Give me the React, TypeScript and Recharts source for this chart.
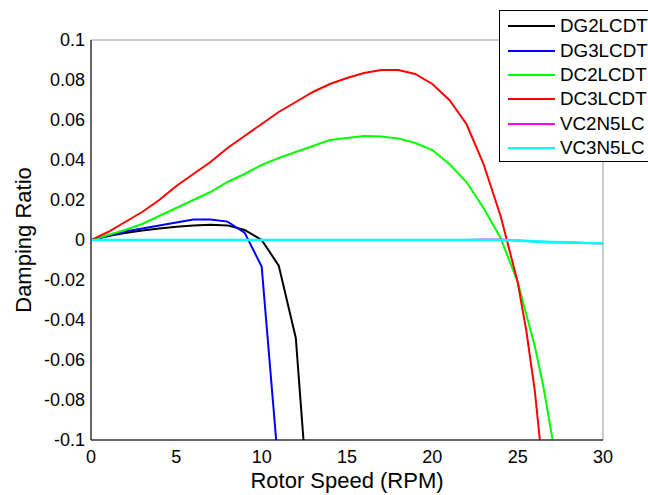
import { CartesianGrid, Legend, Line, LineChart, XAxis, YAxis } from "recharts";

const FONT = '"Liberation Sans", Arial, sans-serif';

const X_TICKS = [0, 5, 10, 15, 20, 25, 30];
const Y_TICKS = [-0.1, -0.08, -0.06, -0.04, -0.02, 0, 0.02, 0.04, 0.06, 0.08, 0.1];

const DG2_X = [0, 1, 2, 3, 4, 5, 6, 7, 8, 9, 10, 11, 12, 12.45];
const DG2_Y = [0, 0.002, 0.0035, 0.0047, 0.0057, 0.0066, 0.0072, 0.0076, 0.0073, 0.005, 0, -0.0128, -0.049, -0.1];

const DG3_X = [0, 1, 2, 3, 4, 5, 6, 7, 8, 9, 10, 10.85];
const DG3_Y = [0, 0.002, 0.0042, 0.0058, 0.0073, 0.0088, 0.0102, 0.0102, 0.0092, 0.0037, -0.0133, -0.1];

const DC2_X = [0, 1, 2, 3, 4, 5, 6, 7, 8, 9, 10, 11, 12, 13, 14, 15, 16, 17, 18, 19, 20, 21, 22, 23, 24, 25, 26, 26.5, 27.05];
const DC2_Y = [
  0, 0.0025, 0.005, 0.008, 0.012, 0.016, 0.02, 0.024, 0.029, 0.033, 0.0375, 0.041, 0.044, 0.047, 0.05,
  0.051, 0.052, 0.0518, 0.0508, 0.0485, 0.045, 0.038, 0.029, 0.016, 0.001, -0.021, -0.053, -0.073, -0.1,
];

const DC3_X = [0, 1, 2, 3, 4, 5, 6, 7, 8, 9, 10, 11, 12, 13, 14, 15, 16, 17, 18, 19, 20, 21, 22, 23, 24, 25, 25.5, 26, 26.3];
const DC3_Y = [
  0, 0.004, 0.009, 0.014, 0.02, 0.027, 0.033, 0.039, 0.046, 0.052, 0.058, 0.064, 0.069, 0.074, 0.078,
  0.081, 0.0835, 0.085, 0.085, 0.083, 0.078, 0.07, 0.058, 0.038, 0.012, -0.021, -0.045, -0.075, -0.1,
];

const VC2_X = [0, 22, 23, 24, 25, 26, 27, 28, 29, 30];
const VC2_Y = [0, 0, 0.0003, 0.0003, -0.0002, -0.0007, -0.0011, -0.0013, -0.0015, -0.0017];

const VC3_X = [0, 24, 25, 26, 27, 28, 29, 30];
const VC3_Y = [0, 0, -0.0003, -0.0007, -0.001, -0.0012, -0.0015, -0.0016];

const toRows = (xs: number[], ys: number[]) => xs.map((x, i) => ({ x, y: ys[i] }));

const SERIES = [
  { name: "DG2LCDT", color: "#000000", width: 2, data: toRows(DG2_X, DG2_Y) },
  { name: "DG3LCDT", color: "#0000FF", width: 2, data: toRows(DG3_X, DG3_Y) },
  { name: "DC2LCDT", color: "#00FF00", width: 2, data: toRows(DC2_X, DC2_Y) },
  { name: "DC3LCDT", color: "#FF0000", width: 2, data: toRows(DC3_X, DC3_Y) },
  { name: "VC2N5LC", color: "#FF00FF", width: 2, data: toRows(VC2_X, VC2_Y) },
  { name: "VC3N5LC", color: "#00FFFF", width: 2.6, data: toRows(VC3_X, VC3_Y) },
];

const fmtY = (v: number) => String(Math.round(v * 100) / 100);

function LegendBox() {
  return (
    <div
      style={{
        background: "#fff",
        border: "1px solid #000",
        borderRight: "none",
        width: 149,
        height: 152,
        boxSizing: "border-box",
        paddingTop: 3,
        fontFamily: FONT,
        fontSize: 18.8,
      }}
    >
      {SERIES.map((s) => (
        <div key={s.name} style={{ display: "flex", alignItems: "center", height: 24.4 }}>
          <div style={{ width: 47, height: 2, background: s.color, marginLeft: 8, marginRight: 5, flexShrink: 0 }} />
          <span style={{ whiteSpace: "nowrap" }}>{s.name}</span>
        </div>
      ))}
    </div>
  );
}

export default function App() {
  const tick = { fontSize: 18, fill: "#000", fontFamily: FONT };
  return (
    <div
      style={{
        position: "absolute",
        left: 0,
        top: 0,
        width: 648,
        height: 495,
        overflow: "hidden",
        background: "#fff",
        fontFamily: FONT,
      }}
    >
      <LineChart width={648} height={495} margin={{ top: 40, right: 45, bottom: 5, left: 11 }}>
        <CartesianGrid stroke="#999999" strokeWidth={1} />
        <XAxis
          xAxisId="b"
          dataKey="x"
          type="number"
          domain={[0, 30]}
          ticks={X_TICKS}
          allowDataOverflow
          height={50}
          tickLine={false}
          tickSize={4}
          tickMargin={6}
          tick={tick}
          axisLine={{ stroke: "#000" }}
          label={{ value: "Rotor Speed (RPM)", position: "insideBottom", offset: 2, fontSize: 22, fill: "#000", fontFamily: FONT }}
        />
        <XAxis
          xAxisId="t"
          orientation="top"
          dataKey="x"
          type="number"
          domain={[0, 30]}
          ticks={X_TICKS}
          height={0}
          tick={false}
          tickLine={false}
          axisLine={{ stroke: "#000" }}
        />
        <YAxis
          yAxisId="l"
          type="number"
          domain={[-0.1, 0.1]}
          ticks={Y_TICKS}
          allowDataOverflow
          width={80}
          tickLine={false}
          tickSize={4}
          tickMargin={2}
          tick={tick}
          tickFormatter={fmtY}
          interval={0}
          axisLine={{ stroke: "#000" }}
          label={{
            value: "Damping Ratio",
            angle: -90,
            position: "insideLeft",
            offset: 12,
            style: { textAnchor: "middle" },
            fontSize: 22,
            fill: "#000",
            fontFamily: FONT,
          }}
        />
        <YAxis
          yAxisId="r"
          orientation="right"
          type="number"
          domain={[-0.1, 0.1]}
          width={0}
          tick={false}
          tickLine={false}
          axisLine={{ stroke: "#000" }}
        />
        {SERIES.map((s) => (
          <Line
            key={s.name}
            xAxisId="b"
            yAxisId="l"
            data={s.data}
            dataKey="y"
            name={s.name}
            type="linear"
            stroke={s.color}
            strokeWidth={s.width}
            dot={false}
            isAnimationActive={false}
          />
        ))}
        <Legend
          content={() => <LegendBox />}
          layout="horizontal"
          verticalAlign="middle"
          align="center"
          wrapperStyle={{ left: 499, top: 10, width: 149, height: 152 }}
        />
      </LineChart>
    </div>
  );
}
